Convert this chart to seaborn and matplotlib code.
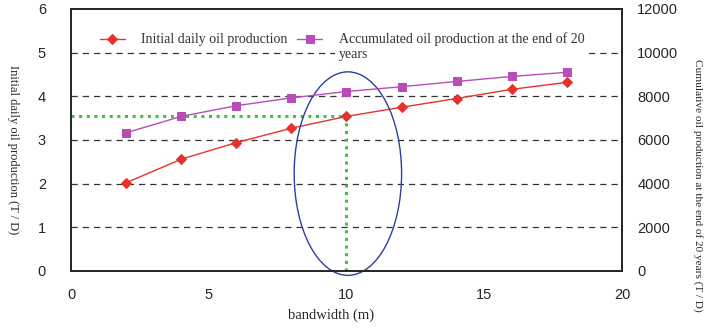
import numpy as np
import pandas as pd
import seaborn as sns
import matplotlib.pyplot as plt
from matplotlib.patches import Ellipse

# data
bandwidth = [2, 4, 6, 8, 10, 12, 14, 16, 18]
initial_daily = [2.02, 2.56, 2.94, 3.27, 3.54, 3.75, 3.95, 4.16, 4.32]
accumulated = [6330, 7080, 7570, 7930, 8220, 8440, 8680, 8910, 9100]

x_ticks = [0, 5, 10, 15, 20]
left_ticks = [0, 1, 2, 3, 4, 5, 6]
right_ticks = [0, 2000, 4000, 6000, 8000, 10000, 12000]

label_initial = "Initial daily oil production"
label_accum = "Accumulated oil production at the end of 20\nyears"

df = pd.DataFrame({
    "bandwidth": bandwidth,
    "initial": initial_daily,
    "accum": accumulated,
})

sns.set_style("white")
plt.rcParams["font.family"] = ["Liberation Sans", "DejaVu Sans"]
serif = ["Liberation Serif", "DejaVu Serif"]

red = "#E3342B"
purple = "#B84DB8"
green = "#3DC43D"

fig = plt.figure(figsize=(7.08, 3.28), dpi=100)
ax = fig.add_axes([0.1003, 0.1738, 0.7782, 0.7988])
ax2 = ax.twinx()

# dashed grid lines at the inner left ticks
for y in left_ticks[1:-1]:
    ax.axhline(y, color="#333333", lw=0.9, ls=(0, (5, 4)), zorder=0)

sns.lineplot(data=df, x="bandwidth", y="initial", ax=ax,
             color=red, marker="D", markersize=4.8, markeredgecolor=red,
             lw=1.0, label=label_initial + "\n ", legend=False, zorder=3)
sns.lineplot(data=df, x="bandwidth", y="accum", ax=ax2,
             color=purple, marker="s", markersize=6.2, markeredgecolor=purple,
             lw=1.0, label=label_accum, legend=False, zorder=3)

# green dotted guide at bandwidth 10
ax.plot([0, bandwidth[4]], [initial_daily[4]] * 2, color=green, lw=2.2,
        ls=(0, (1, 1.5)), zorder=2)
ax.plot([bandwidth[4]] * 2, [0, initial_daily[4]], color=green, lw=2.2,
        ls=(0, (1, 1.5)), zorder=2)

# blue ellipse highlighting the chosen bandwidth
ell = Ellipse((10.05, 2.23), width=3.9, height=4.66, fill=False, edgecolor="#2E3F9E",
              lw=1.0, clip_on=False, zorder=4)
ax.add_patch(ell)

ax.set_xlim(0, 20)
ax.set_ylim(0, 6)
ax2.set_ylim(0, 12000)
ax.set_xticks(x_ticks)
ax.set_yticks(left_ticks)
ax2.set_yticks(right_ticks)
ax.set_xlabel("")
ax.set_ylabel("")
ax2.set_ylabel("")

ax.tick_params(axis="x", direction="in", length=4, width=1, labelsize=10.5, pad=12)
ax.tick_params(axis="y", length=0, labelsize=10.5, pad=18)
ax2.tick_params(axis="y", length=0, labelsize=10.5, pad=11)

for a in (ax, ax2):
    for s in a.spines.values():
        s.set_color("#222222")
        s.set_linewidth(1.2)

fig.text(331 / 708, 1 - 315 / 328, "bandwidth (m)", family=serif, fontsize=10.5,
         ha="center", va="center")
fig.text(13 / 708, 1 - 150 / 328, "Initial daily oil production (T / D)", family=serif,
         fontsize=9, rotation=270, ha="center", va="center")
fig.text(698 / 708, 1 - 185 / 328,
         "Cumulative oil production at the end of 20 years (T / D)",
         family=serif, fontsize=8.1, rotation=270, ha="center", va="center")

h1, l1 = ax.get_legend_handles_labels()
h2, l2 = ax2.get_legend_handles_labels()
fs = 10
leg = ax2.legend(h1 + h2, l1 + l2, ncol=2, loc="upper left", bbox_to_anchor=(0.052, 0.91),
                 frameon=False, prop={"family": serif, "size": fs}, handlelength=1.8,
                 handletextpad=1.2, columnspacing=0.7, borderpad=0, borderaxespad=0)
leg.set_zorder(6)
# put the handles on the first text line, as in the reference
for hl in leg.legend_handles:
    hl.set_ydata(np.asarray(hl.get_ydata()) + 0.6 * fs)
for t in leg.get_texts():
    t.set_color("#333333")
leg.get_texts()[1].set_bbox(dict(facecolor="white", edgecolor="none", pad=3))

fig.savefig("out.png", dpi=100)
